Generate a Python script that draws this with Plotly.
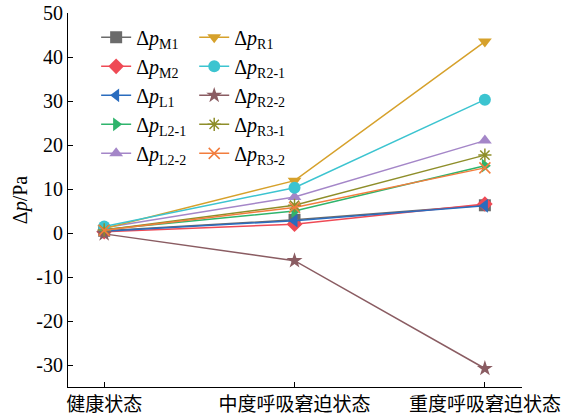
import plotly.graph_objects as go

# Breathing states along the x axis
states = ["健康状态", "中度呼吸窘迫状态", "重度呼吸窘迫状态"]

# Pressure differences (Pa) for each measuring point
dp_M1 = [0.5, 3.0, 6.3]
dp_M2 = [0.3, 2.0, 6.6]
dp_L1 = [0.4, 2.8, 6.2]
dp_L2_1 = [0.8, 5.0, 15.3]
dp_L2_2 = [1.2, 8.2, 21.0]
dp_R1 = [1.0, 11.9, 43.5]
dp_R2_1 = [1.5, 10.3, 30.3]
dp_R2_2 = [-0.2, -6.3, -30.8]
dp_R3_1 = [0.7, 6.3, 17.7]
dp_R3_2 = [0.6, 5.8, 14.8]

# y tick labels written with a plain hyphen for negatives
y_ticks = [-30, -20, -10, 0, 10, 20, 30, 40, 50]
y_tick_text = ["-30", "-20", "-10", "0", "10", "20", "30", "40", "50"]

series = [
    # name, values, colour, symbol, legend
    ("M1", dp_M1, "#6b6b6b", "square", "legend"),
    ("M2", dp_M2, "#ef4a55", "diamond", "legend"),
    ("L1", dp_L1, "#2a6cbe", "triangle-left", "legend"),
    ("L2-1", dp_L2_1, "#2fb46c", "triangle-right", "legend"),
    ("L2-2", dp_L2_2, "#a486c8", "triangle-up", "legend"),
    ("R1", dp_R1, "#d6a12b", "triangle-down", "legend2"),
    ("R2-1", dp_R2_1, "#3cc4d0", "circle", "legend2"),
    ("R2-2", dp_R2_2, "#8a5c62", "star", "legend2"),
    ("R3-1", dp_R3_1, "#8e8e2a", "asterisk-open", "legend2"),
    ("R3-2", dp_R3_2, "#f27d3d", "x-thin-open", "legend2"),
]

fig = go.Figure()
for name, vals, color, sym, lg in series:
    open_sym = sym.endswith("-open")
    fig.add_trace(go.Scatter(
        x=states, y=vals, mode="lines+markers",
        name=f"Δ<i>p</i><sub>{name}</sub>",
        line=dict(color=color, width=1.5),
        marker=dict(symbol=sym, size=12 if not open_sym else 11, color=color,
                    line=dict(color=color, width=1.5 if open_sym else 0)),
        legend=lg,
    ))

font_main = "Liberation Serif, Times New Roman, Noto Sans CJK SC"

legend_style = dict(
    bgcolor="rgba(0,0,0,0)", font=dict(family=font_main, size=20, color="black"),
    yanchor="top", y=0.987, xanchor="left", tracegroupgap=0, itemwidth=30,
)

fig.update_layout(
    width=581, height=419,
    margin=dict(l=68, r=59, t=13, b=32),
    paper_bgcolor="white", plot_bgcolor="white",
    font=dict(family=font_main, size=19, color="black"),
    showlegend=True,
    legend=dict(x=0.062, **legend_style),
    legend2=dict(x=0.278, **legend_style),
    xaxis=dict(
        type="category", range=[-0.19, 2.195], automargin=False,
        showline=True, linecolor="black", linewidth=1.2,
        ticks="inside", ticklen=5, tickcolor="black",
        showgrid=False, zeroline=False,
        tickfont=dict(family="Noto Sans CJK SC", size=19),
    ),
    yaxis=dict(
        range=[-35, 50], automargin=False,
        tickvals=y_ticks, ticktext=y_tick_text,
        showline=True, linecolor="black", linewidth=1.2,
        ticks="inside", ticklen=5, tickcolor="black",
        showgrid=False, zeroline=False,
        tickfont=dict(size=20),
        title=dict(text="Δ<i>p</i>/Pa", font=dict(size=20), standoff=3),
    ),
)

fig.write_html("out.html")
